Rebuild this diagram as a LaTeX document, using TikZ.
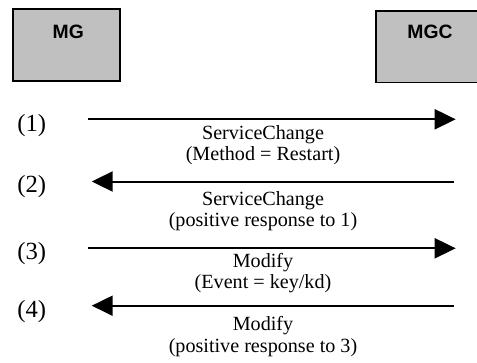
\documentclass[tikz,border=0pt]{standalone}
\usepackage{fontspec}
\setmainfont{Liberation Serif}
\newfontfamily\boxfont{Liberation Sans}
\usetikzlibrary{arrows.meta}
\definecolor{entitygray}{HTML}{C0C0C0}
\begin{document}
\begin{tikzpicture}[x=0.75pt,y=-0.75pt,
  entity/.style={draw=black,line width=1.3pt,fill=entitygray},
  entitylabel/.style={anchor=base,inner sep=0pt,font=\boxfont\fontsize{14.5}{16}\selectfont\bfseries},
  stepno/.style={anchor=base,inner sep=0pt,font=\fontsize{18.5}{20}\selectfont},
  msgtext/.style={anchor=base,inner sep=0pt,font=\fontsize{15.1}{16}\selectfont},
  msg/.style={line width=1.5pt,-{Triangle[length=15.75pt,width=15pt]}}]
\useasboundingbox (0,0) rectangle (477,363);

% the two entities
\draw[entity] (13.3,9) rectangle (120,81);
\draw[entity] (376,11) rectangle (480,82.5);
\node[entitylabel] (mg)  at (68.3,38.5) {MG};
\node[entitylabel] (mgc) at (430,39) {MGC};

% message end points
\coordinate (m1s) at (87.5,119.3);  \coordinate (m1e) at (455.7,119.3);
\coordinate (m2s) at (454,181.5);   \coordinate (m2e) at (91.7,181.5);
\coordinate (m3s) at (87.5,248.3);  \coordinate (m3e) at (455.7,248.3);
\coordinate (m4s) at (454,305.7);   \coordinate (m4e) at (91.7,305.7);

\draw[msg] (m1s) -- (m1e);
\draw[msg] (m2s) -- (m2e);
\draw[msg] (m3s) -- (m3e);
\draw[msg] (m4s) -- (m4e);

% step numbers
\node[stepno] (n1) at (31.7,132) {(1)};
\node[stepno] (n2) at (31.7,192) {(2)};
\node[stepno] (n3) at (31.7,259) {(3)};
\node[stepno] (n4) at (31.7,317) {(4)};

% message descriptions
\node[msgtext] (t1a) at (263,140)   {ServiceChange};
\node[msgtext] (t1b) at (263,161)   {(Method = Restart)};
\node[msgtext] (t2a) at (263,205)   {ServiceChange};
\node[msgtext] (t2b) at (263,226)   {(positive response to 1)};
\node[msgtext] (t3a) at (263,267.5) {Modify};
\node[msgtext] (t3b) at (263,288.5) {(Event = key/kd)};
\node[msgtext] (t4a) at (263,330.5) {Modify};
\node[msgtext] (t4b) at (263,352)   {(positive response to 3)};
\end{tikzpicture}
\end{document}
